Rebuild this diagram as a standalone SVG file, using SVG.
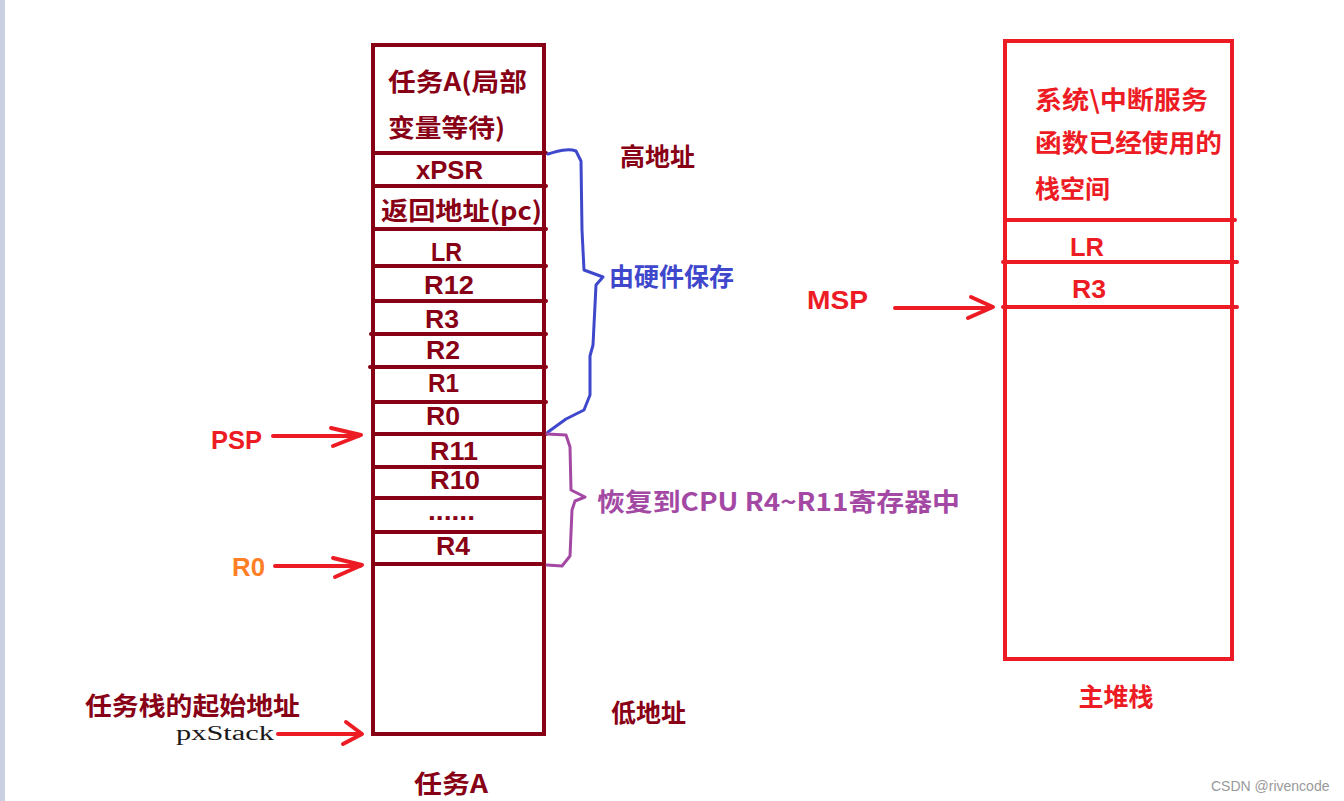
<svg xmlns="http://www.w3.org/2000/svg" width="1344" height="801" viewBox="0 0 1344 801">
<style>
text{font-family:"Microsoft YaHei","Noto Sans CJK SC","Noto Sans",sans-serif;font-weight:bold;font-size:25px}
text.la{font-family:"Liberation Sans",Arial,sans-serif;font-size:26px}
.dr{fill:#880015}
.rd{fill:#ed1c24}
.box{fill:none;stroke:#880015;stroke-width:4}
.ln{stroke:#880015;stroke-width:4;stroke-linecap:round}
.rbox{fill:none;stroke:#ed1c24;stroke-width:4}
.rln{stroke:#ed1c24;stroke-width:4;stroke-linecap:round}
.arr{fill:none;stroke:#ed1c24;stroke-width:4;stroke-linecap:round;stroke-linejoin:round}
</style>
<rect x="0" y="0" width="1344" height="801" fill="#ffffff"/>
<rect x="0" y="0" width="5" height="801" fill="#c8d0e2"/>

<g id="taskA-stack">
<rect class="box" x="373" y="45" width="171" height="689"/>
<line class="ln" x1="373" y1="153" x2="546" y2="153"/>
<line class="ln" x1="373" y1="186" x2="546" y2="186"/>
<line class="ln" x1="373" y1="229" x2="546" y2="229"/>
<line class="ln" x1="373" y1="266" x2="546" y2="266"/>
<line class="ln" x1="373" y1="301" x2="546" y2="301"/>
<line class="ln" x1="371" y1="334" x2="546" y2="334"/>
<line class="ln" x1="370" y1="367" x2="546" y2="367"/>
<line class="ln" x1="373" y1="402" x2="546" y2="402"/>
<line class="ln" x1="373" y1="434" x2="546" y2="434"/>
<line class="ln" x1="373" y1="467" x2="541" y2="467"/>
<line class="ln" x1="373" y1="498" x2="541" y2="498"/>
<line class="ln" x1="373" y1="532" x2="541" y2="532"/>
<line class="ln" x1="373" y1="564" x2="541" y2="564"/>
<text class="dr" x="388" y="91" textLength="139" lengthAdjust="spacingAndGlyphs">任务A(局部</text>
<text class="dr" x="388" y="137" textLength="117" lengthAdjust="spacingAndGlyphs">变量等待)</text>
<text class="dr la" x="416" y="179" textLength="67" lengthAdjust="spacingAndGlyphs">xPSR</text>
<text class="dr" x="381" y="220" textLength="161" lengthAdjust="spacingAndGlyphs">返回地址(pc)</text>
<text class="dr la" x="431" y="261" textLength="31" lengthAdjust="spacingAndGlyphs">LR</text>
<text class="dr la" x="424" y="294" textLength="50" lengthAdjust="spacingAndGlyphs">R12</text>
<text class="dr la" x="425" y="328" textLength="34" lengthAdjust="spacingAndGlyphs">R3</text>
<text class="dr la" x="426" y="359" textLength="34" lengthAdjust="spacingAndGlyphs">R2</text>
<text class="dr la" x="428" y="392" textLength="31" lengthAdjust="spacingAndGlyphs">R1</text>
<text class="dr la" x="426" y="425" textLength="34" lengthAdjust="spacingAndGlyphs">R0</text>
<text class="dr la" x="430" y="460" textLength="48" lengthAdjust="spacingAndGlyphs" style="font-size:25px">R11</text>
<text class="dr la" x="430" y="489" textLength="50" lengthAdjust="spacingAndGlyphs" style="font-size:25px">R10</text>
<text class="dr la" x="428" y="520" textLength="47" lengthAdjust="spacingAndGlyphs">......</text>
<text class="dr la" x="436" y="555" textLength="34" lengthAdjust="spacingAndGlyphs">R4</text>
</g>

<g id="label-taskA"><text class="dr" x="414" y="793" textLength="74" lengthAdjust="spacingAndGlyphs">任务A</text></g>
<g id="label-high"><text class="dr" x="620" y="166">高地址</text></g>
<g id="label-low"><text class="dr" x="611" y="722">低地址</text></g>

<g id="label-psp"><text class="rd la" x="211" y="449" textLength="51" lengthAdjust="spacingAndGlyphs">PSP</text></g>
<g id="label-r0"><text class="la" x="232" y="576" fill="#ff7f27" textLength="33" lengthAdjust="spacingAndGlyphs">R0</text></g>
<g id="label-start">
<text class="dr" x="85" y="715" textLength="215" lengthAdjust="spacingAndGlyphs">任务栈的起始地址</text>
<text x="176" y="740" style="font-family:'Liberation Serif','DejaVu Serif',serif;font-weight:normal;font-size:20px" fill="#1a1a1a" textLength="98" lengthAdjust="spacingAndGlyphs">pxStack</text>
</g>

<g id="hw-brace">
<path d="M548,154 C558,151 568,148 576,151 L581,161 L582,230 L584,270 L603,277 L596,285 L593,345 L590,356 L590,395 L584,410 L566,419 L548,432" fill="none" stroke="#3f48cc" stroke-width="3" stroke-linejoin="round" stroke-linecap="round"/>
<text x="609" y="286" fill="#3f48cc">由硬件保存</text>
</g>

<g id="restore-brace">
<path d="M547,434 L566,435 L570,447 L571,490 L585,497 L575,501 L572,510 L570,556 L562,566 L547,565" fill="none" stroke="#a349a4" stroke-width="3" stroke-linejoin="round" stroke-linecap="round"/>
<text x="597" y="511" fill="#a349a4" textLength="363" lengthAdjust="spacingAndGlyphs">恢复到CPU R4~R11寄存器中</text>
</g>

<g id="main-stack">
<rect class="rbox" x="1005" y="41" width="227" height="618"/>
<line class="rln" x1="1005" y1="220" x2="1235" y2="220"/>
<line class="rln" x1="1003" y1="262" x2="1237" y2="262"/>
<line class="rln" x1="1003" y1="307" x2="1237" y2="307"/>
<text class="rd" x="1035" y="109" textLength="173" lengthAdjust="spacingAndGlyphs">系统\中断服务</text>
<text class="rd" x="1035" y="152" textLength="187" lengthAdjust="spacingAndGlyphs">函数已经使用的</text>
<text class="rd" x="1035" y="198">栈空间</text>
<text class="rd la" x="1070" y="256" textLength="34" lengthAdjust="spacingAndGlyphs">LR</text>
<text class="rd la" x="1072" y="298" textLength="34" lengthAdjust="spacingAndGlyphs">R3</text>
</g>
<g id="label-main"><text class="rd" x="1116" y="706" text-anchor="middle">主堆栈</text></g>
<g id="label-msp"><text class="rd la" x="807" y="309" textLength="61" lengthAdjust="spacingAndGlyphs">MSP</text></g>

<g id="connectors">
<line class="arr" x1="273" y1="436" x2="358" y2="436"/>
<polyline class="arr" points="331,428 361,435 333,446"/>
<line class="arr" x1="275" y1="566" x2="360" y2="566"/>
<polyline class="arr" points="333,558 362,565 335,577"/>
<line class="arr" x1="278" y1="734" x2="360" y2="734"/>
<polyline class="arr" points="346,722 362,734 343,744"/>
<line class="arr" x1="895" y1="308" x2="990" y2="308"/>
<polyline class="arr" points="971,297 993,307 968,318"/>
</g>

<g id="watermark"><text x="1211" y="791" style="font-family:'Liberation Sans',Arial,sans-serif;font-weight:normal;font-size:14px" fill="#999999">CSDN @rivencode</text></g>
</svg>
